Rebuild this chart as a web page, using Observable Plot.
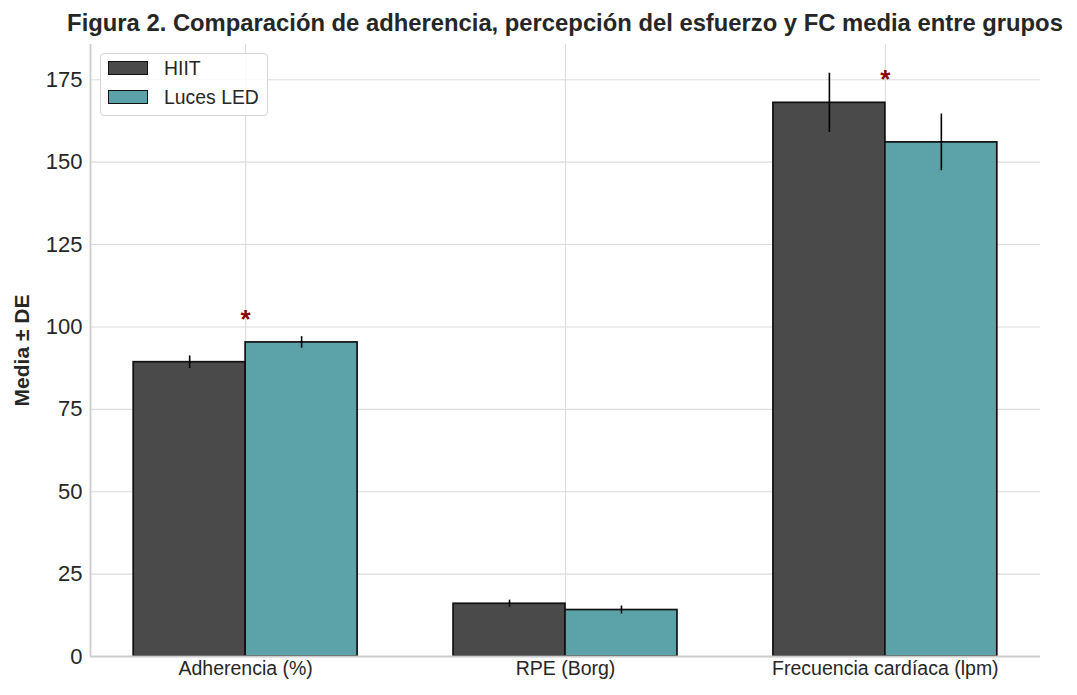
<!DOCTYPE html>
<html>
<head>
<meta charset="utf-8">
<script src="https://cdn.jsdelivr.net/npm/d3@7"></script>
<script src="https://cdn.jsdelivr.net/npm/@observablehq/plot@0.6"></script>
<style>
  html, body { margin: 0; padding: 0; background: #fff; }
  #wrap { position: relative; width: 1077px; height: 695px; font-family: "Liberation Sans", Arial, sans-serif; color: #262626; }
  #titlebox { position: relative; height: 44px; width: 1077px; }
  #title { position: absolute; left: 565px; top: 0; transform: translateX(-50%); line-height: 46px; font-weight: bold; font-size: 23.8px; white-space: nowrap; }
  #legend { position: absolute; left: 100px; top: 53px; width: 166px; height: 61px; border: 1px solid #d4d4d4; border-radius: 4px; background: rgba(255,255,255,0.85); box-sizing: content-box; }
  .item { position: absolute; left: 7px; height: 15px; font-size: 19.4px; }
  .sw { position: absolute; left: 0; top: 0; width: 38px; height: 12px; border: 1.5px solid #111; }
  .lab { position: absolute; left: 56px; top: -4px; white-space: nowrap; line-height: 22px; }
</style>
</head>
<body>
<div id="wrap">
  <div id="titlebox"><div id="title">Figura 2. Comparación de adherencia, percepción del esfuerzo y FC media entre grupos</div></div>
  <div id="chart"></div>
  <div id="legend"></div>
</div>
<script>
// ---- data ----
const categories = ["Adherencia (%)", "RPE (Borg)", "Frecuencia cardíaca (lpm)"];
const groups = ["HIIT", "Luces LED"];
const hiitMean = [89.3, 16.0, 168.0];
const hiitSD = [1.9, 1.1, 9.0];
const ledMean = [95.3, 14.1, 156.0];
const ledSD = [1.75, 1.2, 8.6];
const significant = [true, false, true];
const yTicks = [0, 25, 50, 75, 100, 125, 150, 175];
const groupColors = ["#4a4a4a", "#5ba3a8"];

// ---- layout constants ----
const barW = 0.35;
const xDomain = [-0.485, 2.485];
const yDomain = [0, 185.7];

const means = [hiitMean, ledMean];
const sds = [hiitSD, ledSD];
const rows = categories.flatMap((c, i) => groups.map((g, k) => ({
  cat: i,
  group: g,
  mean: means[k][i],
  sd: sds[k][i],
  x1: i + (k - 1) * barW,
  x2: i + k * barW,
  xc: i + (k - 0.5) * barW
})));
const stars = categories.map((c, i) => ({cat: i, sig: significant[i], top: Math.max(hiitMean[i], ledMean[i])}))
  .filter(d => d.sig);

const plot = Plot.plot({
  width: 1077,
  height: 651,
  marginTop: 0,
  marginLeft: 90,
  marginRight: 37,
  marginBottom: 39,
  style: {fontFamily: "Liberation Sans, Arial, sans-serif", color: "#262626", background: "#fff"},
  x: {domain: xDomain, axis: null},
  y: {domain: yDomain, axis: null},
  color: {domain: groups, range: groupColors},
  marks: [
    Plot.gridY({ticks: yTicks, stroke: "#dcdcdc", strokeOpacity: 1, strokeWidth: 1.1}),
    Plot.gridX({ticks: [0, 1, 2], stroke: "#dcdcdc", strokeOpacity: 1, strokeWidth: 1.1}),
    Plot.rectY(rows, {x1: "x1", x2: "x2", y1: 0, y2: "mean", fill: "group", stroke: "#111", strokeWidth: 1.7}),
    Plot.ruleX(rows, {x: "xc", y1: d => d.mean - d.sd, y2: d => d.mean + d.sd, stroke: "#000", strokeWidth: 1.6}),
    Plot.text(stars, {x: "cat", y: d => d.top + 4.5, text: () => "*", lineAnchor: "bottom", fontSize: 26, fontWeight: "bold", fill: "#8b0000"}),
    Plot.ruleY([yDomain[0]], {stroke: "#cccccc", strokeWidth: 1.8}),
    Plot.ruleX([xDomain[0]], {stroke: "#cccccc", strokeWidth: 1.8}),
    Plot.axisY({ticks: yTicks, tickSize: 0, tickPadding: 8, fontSize: 22, fill: "#262626", label: null}),
    Plot.axisY({ticks: [], tickSize: 0, label: "Media ± DE", labelAnchor: "center", labelArrow: "none", labelOffset: 76, fontSize: 21, fontWeight: "bold", fill: "#262626"}),
    Plot.axisX({ticks: [0, 1, 2], tickFormat: i => categories[i], tickSize: 0, tickPadding: 5, fontSize: 19.5, fill: "#262626", label: null})
  ]
});
document.getElementById("chart").appendChild(plot);

// legend (HTML, inside plot area)
const legend = document.getElementById("legend");
groups.forEach((g, k) => {
  const item = document.createElement("div");
  item.className = "item";
  item.style.top = (7 + k * 29) + "px";
  const sw = document.createElement("div");
  sw.className = "sw";
  sw.style.background = groupColors[k];
  const lab = document.createElement("div");
  lab.className = "lab";
  lab.textContent = g;
  item.appendChild(sw);
  item.appendChild(lab);
  legend.appendChild(item);
});
</script>
</body>
</html>
